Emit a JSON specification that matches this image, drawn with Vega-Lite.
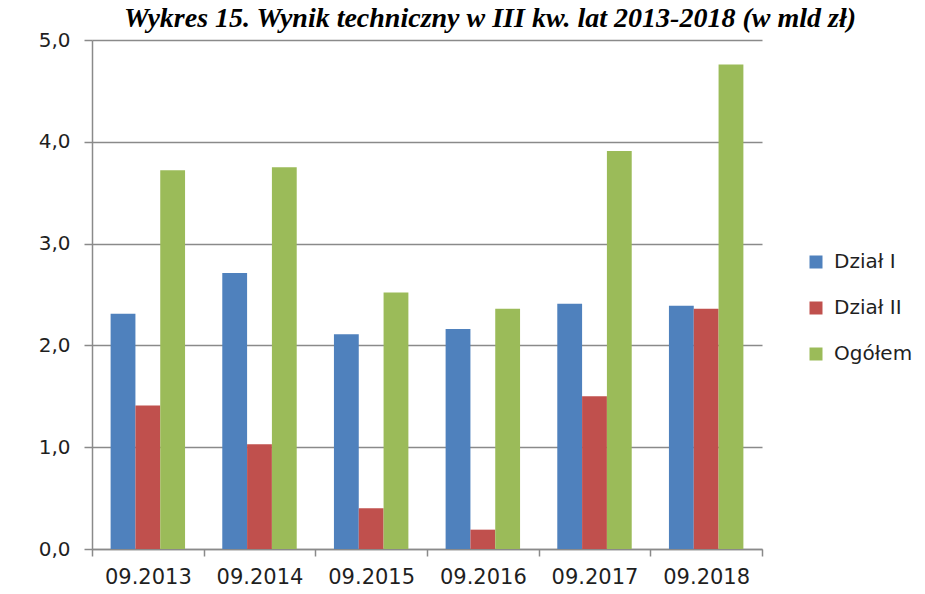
{
  "$schema": "https://vega.github.io/schema/vega-lite/v6.json",
  "width": 670,
  "height": 509,
  "autosize": {"type": "none"},
  "padding": {"left": 92, "top": 40, "right": 163, "bottom": 45},
  "background": "white",
  "title": {
    "text": "Wykres 15. Wynik techniczny w III kw. lat 2013-2018 (w mld zł)",
    "anchor": "middle",
    "dx": 63,
    "offset": 0,
    "dy": 25,
    "baseline": "alphabetic",
    "font": "Liberation Serif",
    "fontSize": 28,
    "fontWeight": "bold",
    "fontStyle": "italic",
    "color": "black"
  },
  "data": {
    "values": [
      {"okres": "09.2013", "seria": "Dział I", "wartosc": 2.31},
      {"okres": "09.2013", "seria": "Dział II", "wartosc": 1.41},
      {"okres": "09.2013", "seria": "Ogółem", "wartosc": 3.72},
      {"okres": "09.2014", "seria": "Dział I", "wartosc": 2.71},
      {"okres": "09.2014", "seria": "Dział II", "wartosc": 1.03},
      {"okres": "09.2014", "seria": "Ogółem", "wartosc": 3.75},
      {"okres": "09.2015", "seria": "Dział I", "wartosc": 2.11},
      {"okres": "09.2015", "seria": "Dział II", "wartosc": 0.40},
      {"okres": "09.2015", "seria": "Ogółem", "wartosc": 2.52},
      {"okres": "09.2016", "seria": "Dział I", "wartosc": 2.16},
      {"okres": "09.2016", "seria": "Dział II", "wartosc": 0.19},
      {"okres": "09.2016", "seria": "Ogółem", "wartosc": 2.36},
      {"okres": "09.2017", "seria": "Dział I", "wartosc": 2.41},
      {"okres": "09.2017", "seria": "Dział II", "wartosc": 1.50},
      {"okres": "09.2017", "seria": "Ogółem", "wartosc": 3.91},
      {"okres": "09.2018", "seria": "Dział I", "wartosc": 2.39},
      {"okres": "09.2018", "seria": "Dział II", "wartosc": 2.36},
      {"okres": "09.2018", "seria": "Ogółem", "wartosc": 4.76}
    ]
  },
  "mark": {"type": "bar"},
  "encoding": {
    "x": {
      "field": "okres",
      "type": "nominal",
      "sort": ["09.2013", "09.2014", "09.2015", "09.2016", "09.2017", "09.2018"],
      "scale": {"paddingInner": 0, "paddingOuter": 0},
      "axis": {
        "title": null,
        "labelAngle": 0,
        "tickBand": "extent",
        "tickSize": 7,
        "tickWidth": 1.5,
        "tickColor": "#8a8a8a",
        "domainColor": "#8a8a8a",
        "domainWidth": 1.5,
        "labelFont": "DejaVu Sans",
        "labelFontSize": 21,
        "labelColor": "#1f1f1f",
        "labelPadding": 10,
        "grid": false
      }
    },
    "xOffset": {
      "field": "seria",
      "type": "nominal",
      "sort": ["Dział I", "Dział II", "Ogółem"],
      "scale": {"paddingInner": 0, "paddingOuter": 0.75}
    },
    "y": {
      "field": "wartosc",
      "type": "quantitative",
      "scale": {"domain": [0, 5], "nice": false},
      "axis": {
        "title": null,
        "values": [0, 1, 2, 3, 4, 5],
        "labelExpr": "replace(format(datum.value, '.1f'), '.', ',')",
        "grid": true,
        "gridColor": "#8a8a8a",
        "gridWidth": 1.5,
        "tickSize": 8,
        "tickWidth": 1.5,
        "tickColor": "#8a8a8a",
        "domainColor": "#8a8a8a",
        "domainWidth": 1.5,
        "labelFont": "DejaVu Sans",
        "labelFontSize": 20,
        "labelColor": "#1f1f1f",
        "labelPadding": 14
      }
    },
    "color": {
      "field": "seria",
      "type": "nominal",
      "scale": {
        "domain": ["Dział I", "Dział II", "Ogółem"],
        "range": ["#4F81BD", "#C0504D", "#9BBB59"]
      },
      "legend": {
        "title": null,
        "orient": "none",
        "legendX": 714,
        "legendY": 212,
        "padding": 0,
        "symbolType": "square",
        "symbolSize": 169,
        "symbolStrokeWidth": 0,
        "labelFont": "DejaVu Sans",
        "labelFontSize": 20,
        "labelColor": "#1f1f1f",
        "labelOffset": 8,
        "rowPadding": 26
      }
    }
  },
  "config": {
    "view": {"stroke": null}
  }
}
